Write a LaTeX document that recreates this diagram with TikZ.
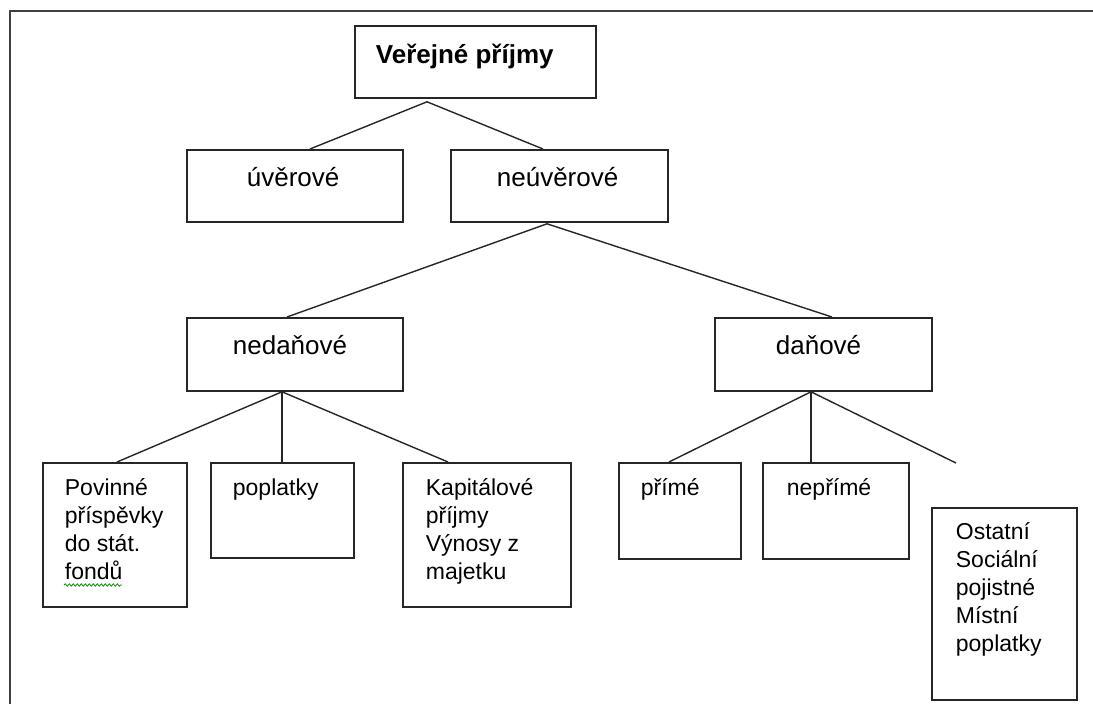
\documentclass[tikz,border=0pt]{standalone}
\usepackage{fontspec}
\setmainfont{Liberation Sans}
\usetikzlibrary{decorations.pathmorphing}
% width, height, first-baseline offset from top, left indent, content
\newcommand{\boxtxt}[5]{\parbox[c][#2][t]{#1}{\raggedright\leftskip=#4\relax\vspace*{\dimexpr#3-1em\relax}\rule{0pt}{1em}#5\par}}
\tikzset{
  frameline/.style={draw=black!75, line width=2pt},
  box/.style={draw=black!85, line width=1.8pt, rectangle, inner sep=0pt, anchor=north west},
  midtxt/.style={font=\fontsize{26}{30}\selectfont},
  lowtxt/.style={font=\fontsize{23}{28}\selectfont},
  link/.style={draw=black!85, line width=1.4pt},
}
\begin{document}
\begin{tikzpicture}[x=1pt,y=-1pt]
\useasboundingbox (0,0) rectangle (1093,704);
% outer frame (only left and top edges visible)
\draw[frameline] (10,704) -- (10,11) -- (1093,11);

% level 0
\node[box, midtxt] (top) at (354,25) {\boxtxt{241pt}{72pt}{38pt}{21pt}{\bfseries Veřejné příjmy}};
% level 1
\node[box, midtxt] (uver) at (186,149) {\boxtxt{216pt}{72pt}{37pt}{60pt}{úvěrové}};
\node[box, midtxt] (neuver) at (450,149) {\boxtxt{217pt}{72pt}{37pt}{46pt}{neúvěrové}};
% level 2
\node[box, midtxt] (nedan) at (186,317) {\boxtxt{216pt}{73pt}{37pt}{46pt}{nedaňové}};
\node[box, midtxt] (dan) at (714,317) {\boxtxt{217pt}{73pt}{37pt}{61pt}{daňové}};
% level 3
\node[box, lowtxt] (pov) at (42,462) {\boxtxt{144pt}{144pt}{33pt}{22pt}{Povinné\\ příspěvky\\ do stát.\\ fondů}};
\node[box, lowtxt] (popl) at (210,462) {\boxtxt{143pt}{95pt}{33pt}{22pt}{poplatky}};
\node[box, lowtxt] (kap) at (402,462) {\boxtxt{168pt}{144pt}{33pt}{23pt}{Kapitálové\\ příjmy\\ Výnosy z\\ majetku}};
\node[box, lowtxt] (prime) at (618,462) {\boxtxt{122pt}{96pt}{33pt}{22pt}{přímé}};
\node[box, lowtxt] (neprime) at (762,462) {\boxtxt{146pt}{96pt}{33pt}{24pt}{nepřímé}};
\node[box, lowtxt] (ost) at (931,507) {\boxtxt{145pt}{192pt}{32pt}{24pt}{Ostatní\\ Sociální\\ pojistné\\ Místní\\ poplatky}};
\coordinate (freeend) at (956,463);

% connectors
\draw[link] ([xshift=73pt,yshift=-3pt]top.south west) -- ([xshift=124pt]uver.north west);
\draw[link] ([xshift=73pt,yshift=-3pt]top.south west) -- ([xshift=93pt]neuver.north west);
\draw[link] ([xshift=97pt,yshift=-1pt]neuver.south west) -- ([xshift=101pt]nedan.north west);
\draw[link] ([xshift=97pt,yshift=-1pt]neuver.south west) -- ([xshift=118pt]dan.north west);
\draw[link] ([xshift=96pt]nedan.south west) -- ([xshift=75pt]pov.north west);
\draw[link] ([xshift=96pt]nedan.south west) -- ([xshift=72pt]popl.north west);
\draw[link] ([xshift=96pt]nedan.south west) -- ([xshift=46pt]kap.north west);
\draw[link] ([xshift=97pt]dan.south west) -- ([xshift=51pt]prime.north west);
\draw[link] ([xshift=97pt]dan.south west) -- ([xshift=49pt]neprime.north west);
\draw[link] ([xshift=97pt]dan.south west) -- (freeend);

% spell-check underline under "fondů"
\draw[green!60!black, line width=0.8pt, decorate, decoration={snake, amplitude=1.2pt, segment length=4pt}]
  ([xshift=22pt,yshift=-123pt]pov.north west) -- ++(58,0);
\end{tikzpicture}
\end{document}
